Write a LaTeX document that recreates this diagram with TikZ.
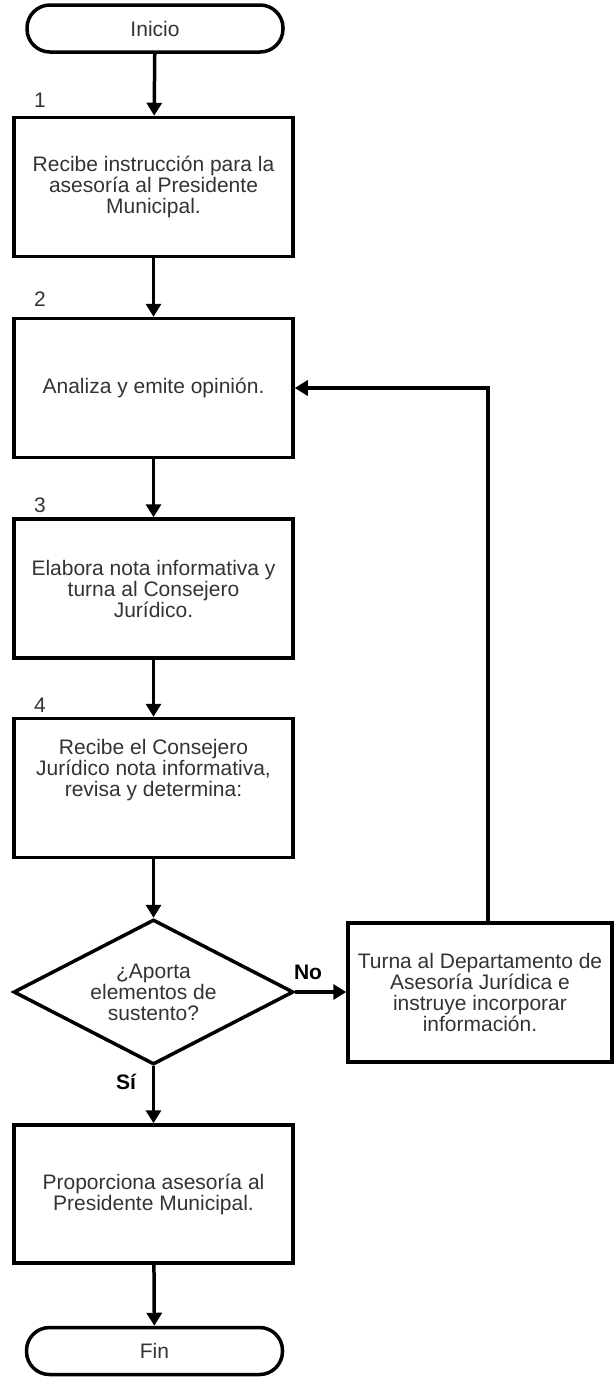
\documentclass[tikz,border=0pt]{standalone}
\usepackage{fontspec}
\setmainfont{Liberation Sans}
\usetikzlibrary{arrows.meta,shapes.geometric}
\begin{document}
\begin{tikzpicture}[x=1pt,y=-1pt,
  font=\fontsize{21}{21}\selectfont,
  conn/.style={draw=black,line width=3.5pt,-{Triangle[width=15pt,length=13pt]}},
  terminal/.style={draw=black,line width=3.5pt,rounded corners=23pt,minimum width=256pt,minimum height=47pt,inner sep=0pt,text=black!80},
  proc/.style={draw=black,line width=3.5pt,minimum width=279pt,minimum height=139pt,inner sep=0pt,align=center,text=black!80},
  txt/.style={align=center,inner sep=0pt,text=black!80},
  decision/.style={draw=black,line width=3.5pt,diamond,aspect=1.93,minimum width=280pt,minimum height=145pt,inner sep=0pt,align=center,text=black!80},
  stepnum/.style={inner sep=0pt,text=black!80},
  edgelab/.style={inner sep=0pt,font=\fontsize{21}{21}\selectfont\bfseries,text=black}
]
\useasboundingbox (0,0) rectangle (615,1377);

\node[terminal] (start) at (155,28.5) {Inicio};
\node[stepnum] (n1) at (40,100) {1};
\node[proc] (b1) at (153.5,187) {Recibe instrucción para la\\asesoría al Presidente\\Municipal.};
\node[stepnum] (n2) at (40,299) {2};
\node[proc] (b2) at (153.5,388) {Analiza y emite opinión.};
\node[stepnum] (n3) at (40,505) {3};
\node[proc] (b3) at (153.5,588.5) {Elabora nota informativa y\\turna al Consejero\\Jurídico.};
\node[stepnum] (n4) at (40,705) {4};
\node[proc] (b4) at (153.5,788) {};
\node[txt] (t4) at (153.5,770) {Recibe el Consejero\\Jurídico nota informativa,\\revisa y determina:};
\node[decision] (dec) at (153.5,992) {¿Aporta\\elementos de\\sustento?};
\node[proc,minimum width=264pt] (rb) at (480,992.5) {Turna al Departamento de\\Asesoría Jurídica e\\instruye incorporar\\información.};
\node[proc,minimum height=138pt] (b5) at (153.5,1194) {Proporciona asesoría al\\Presidente Municipal.};
\node[terminal] (fin) at (154.5,1351) {Fin};

\coordinate (turn) at (488,388);

\draw[conn] (start) -- (b1);
\draw[conn] (b1) -- (b2);
\draw[conn] (b2) -- (b3);
\draw[conn] (b3) -- (b4);
\draw[conn] (b4) -- (dec);
\draw[conn] (dec.east) -- (dec.east -| rb.west);
\draw[conn] (dec.south) -- (b5);
\draw[conn] (b5) -- (fin);
\draw[conn] (rb.north -| turn) -- (turn) -- (b2.east);

\node[edgelab] (no) at (308,972) {No};
\node[edgelab] (si) at (126,1082) {Sí};
\end{tikzpicture}
\end{document}
